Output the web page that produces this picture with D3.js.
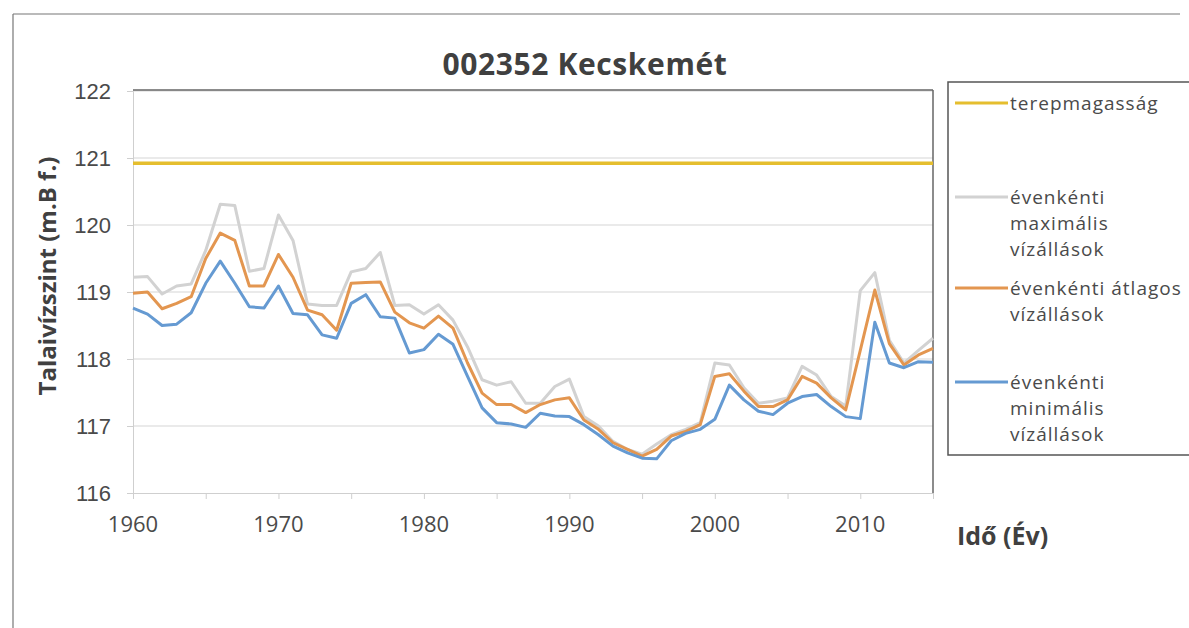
<!DOCTYPE html>
<html>
<head>
<meta charset="utf-8">
<script src="https://cdn.jsdelivr.net/npm/d3@7"></script>
<style>
  body { margin: 0; background: #fff; }
  svg { font-family: "Open Sans", sans-serif; }
</style>
</head>
<body>
<svg id="chart" width="1189" height="628"></svg>
<script>
const years = d3.range(1960, 2016);

const maxLevels = [
  119.22, 119.23, 118.97, 119.09, 119.12, 119.62, 120.31, 120.29, 119.31, 119.35,
  120.15, 119.77, 118.82, 118.80, 118.80, 119.30, 119.35, 119.59, 118.80, 118.81,
  118.67, 118.81, 118.58, 118.18, 117.69, 117.61, 117.66, 117.34, 117.34, 117.59,
  117.70, 117.14, 117.00, 116.77, 116.65, 116.58, 116.73, 116.87, 116.95, 117.05,
  117.94, 117.91, 117.57, 117.34, 117.37, 117.42, 117.89, 117.76, 117.44, 117.30,
  119.02, 119.29, 118.28, 117.94, 118.13, 118.31,
];

const avgLevels = [
  118.98, 119.00, 118.75, 118.83, 118.93, 119.50, 119.88, 119.77, 119.09, 119.09,
  119.56, 119.22, 118.73, 118.66, 118.43, 119.13, 119.14, 119.15, 118.70, 118.54,
  118.46, 118.64, 118.46, 117.94, 117.49, 117.32, 117.32, 117.20, 117.32, 117.39,
  117.42, 117.09, 116.95, 116.75, 116.65, 116.55, 116.65, 116.85, 116.92, 117.02,
  117.74, 117.78, 117.52, 117.29, 117.29, 117.39, 117.74, 117.64, 117.42, 117.24,
  118.13, 119.03, 118.23, 117.91, 118.06, 118.16,
];

const minLevels = [
  118.76, 118.67, 118.50, 118.52, 118.69, 119.13, 119.46, 119.13, 118.78, 118.76,
  119.09, 118.68, 118.66, 118.36, 118.31, 118.83, 118.96, 118.63, 118.61, 118.09,
  118.14, 118.37, 118.22, 117.74, 117.27, 117.05, 117.03, 116.98, 117.19, 117.15,
  117.14, 117.02, 116.87, 116.70, 116.60, 116.52, 116.51, 116.78, 116.89, 116.95,
  117.10, 117.61, 117.39, 117.22, 117.17, 117.34, 117.44, 117.47, 117.29, 117.14,
  117.11, 118.55, 117.94, 117.87, 117.96, 117.95,
];

const surfaceLevel = 120.92;

const yTicks = [116, 117, 118, 119, 120, 121, 122];
const xLabelTicks = [1960, 1970, 1980, 1990, 2000, 2010];
const xMinorTicks = d3.range(1960, 2016, 5);

const seriesNames = [
  { key: "terep", lines: ["terepmagasság"], color: "#E5BE2E", y: 103 },
  { key: "max", lines: ["évenkénti", "maximális", "vízállások"], color: "#D2D2D2", y: 197 },
  { key: "avg", lines: ["évenkénti átlagos", "vízállások"], color: "#E39650", y: 288 },
  { key: "min", lines: ["évenkénti", "minimális", "vízállások"], color: "#659AD2", y: 382 },
];

const svg = d3.select("#chart");
const plotLeft = 133, plotRight = 933, plotTop = 91, plotBottom = 493;

const x = d3.scaleLinear().domain([1960, 2015]).range([plotLeft, plotRight]);
const y = d3.scaleLinear().domain([116, 122]).range([plotBottom, plotTop]);
const textColor = "#4a4a4a";

// outer frame (scan edge)
svg.append("line").attr("x1", 13).attr("y1", 14).attr("x2", 1180).attr("y2", 14)
  .attr("stroke", "#777").attr("stroke-width", 1.2);
svg.append("line").attr("x1", 13).attr("y1", 14).attr("x2", 13).attr("y2", 628)
  .attr("stroke", "#777").attr("stroke-width", 1.2);

// gridlines
svg.append("g")
  .selectAll("line")
  .data(yTicks.filter((d) => d > 116))
  .join("line")
  .attr("x1", plotLeft)
  .attr("x2", plotRight)
  .attr("y1", (d) => y(d))
  .attr("y2", (d) => y(d))
  .attr("stroke", "#d6d6d6")
  .attr("stroke-width", 1.2);

// left axis
svg.append("g")
  .attr("transform", `translate(${plotLeft}, 0)`)
  .call(d3.axisLeft(y).tickValues(yTicks).tickSize(6).tickPadding(16).tickFormat(d3.format("d")))
  .call((g) => g.select(".domain").attr("stroke", "#cfcfcf"))
  .call((g) => g.selectAll(".tick line").attr("stroke", "#cfcfcf"))
  .call((g) => g.selectAll(".tick text").style("font-size", "22px").attr("fill", textColor));

// bottom axis
svg.append("g")
  .attr("transform", `translate(0, ${plotBottom})`)
  .call(d3.axisBottom(x).tickValues(xMinorTicks).tickSize(6).tickFormat(() => ""))
  .call((g) => g.select(".domain").attr("stroke", "#cfcfcf"))
  .call((g) => g.selectAll(".tick line").attr("stroke", "#cfcfcf"));

svg.append("g")
  .selectAll("text")
  .data(xLabelTicks)
  .join("text")
  .attr("x", (d) => x(d))
  .attr("y", plotBottom + 39)
  .attr("text-anchor", "middle")
  .style("font-size", "22px")
  .attr("fill", textColor)
  .text((d) => d);

// plot area border top/right
svg.append("line").attr("x1", plotLeft).attr("x2", plotRight).attr("y1", plotTop - 1).attr("y2", plotTop - 1)
  .attr("stroke", "#666").attr("stroke-width", 1.5);
svg.append("line").attr("x1", plotRight).attr("x2", plotRight).attr("y1", plotTop - 1).attr("y2", plotBottom)
  .attr("stroke", "#666").attr("stroke-width", 1.5);

// lines
const line = d3.line()
  .x((d) => x(d.year))
  .y((d) => y(d.value));

const toPoints = (values) => values.map((value, i) => ({ year: years[i], value }));

const seriesData = [
  { key: "terep", values: [{ year: 1960, value: surfaceLevel }, { year: 2015, value: surfaceLevel }], width: 3.5 },
  { key: "max", values: toPoints(maxLevels), width: 3 },
  { key: "avg", values: toPoints(avgLevels), width: 3 },
  { key: "min", values: toPoints(minLevels), width: 3 },
];
const colorOf = (key) => seriesNames.find((s) => s.key === key).color;

svg.append("g")
  .selectAll("path")
  .data(seriesData)
  .join("path")
  .attr("fill", "none")
  .attr("stroke", (d) => colorOf(d.key))
  .attr("stroke-width", (d) => d.width)
  .attr("stroke-linejoin", "round")
  .attr("d", (d) => line(d.values));

// titles
svg.append("text")
  .attr("x", 585)
  .attr("y", 75)
  .attr("text-anchor", "middle")
  .style("font-size", "30px")
  .style("font-weight", "bold")
  .style("letter-spacing", "0.6px")
  .attr("fill", "#404040")
  .text("002352 Kecskemét");

svg.append("text")
  .attr("transform", "translate(56, 276) rotate(-90)")
  .attr("text-anchor", "middle")
  .style("font-size", "24px")
  .style("font-weight", "bold")
  .attr("fill", "#404040")
  .text("Talaivízszint (m.B f.)");

svg.append("text")
  .attr("x", 957)
  .attr("y", 545)
  .style("font-size", "25px")
  .style("font-weight", "bold")
  .attr("fill", "#404040")
  .text("Idő (Év)");

// legend
const legend = svg.append("g");
legend.append("rect")
  .attr("x", 948).attr("y", 82)
  .attr("width", 250).attr("height", 373)
  .attr("fill", "none")
  .attr("stroke", "#555")
  .attr("stroke-width", 1.5);

const items = legend.selectAll("g.item")
  .data(seriesNames)
  .join("g")
  .attr("class", "item")
  .attr("transform", (d) => `translate(0, ${d.y})`);

items.append("line")
  .attr("x1", 955).attr("x2", 1008)
  .attr("y1", 0).attr("y2", 0)
  .attr("stroke", (d) => d.color)
  .attr("stroke-width", 3);

items.each(function (d) {
  d3.select(this)
    .selectAll("text")
    .data(d.lines)
    .join("text")
    .attr("x", 1010)
    .attr("y", (t, i) => i * 26)
    .attr("dy", "0.35em")
    .style("font-size", "19px")
    .style("letter-spacing", "1px")
    .attr("fill", textColor)
    .text((t) => t);
});
</script>
</body>
</html>
